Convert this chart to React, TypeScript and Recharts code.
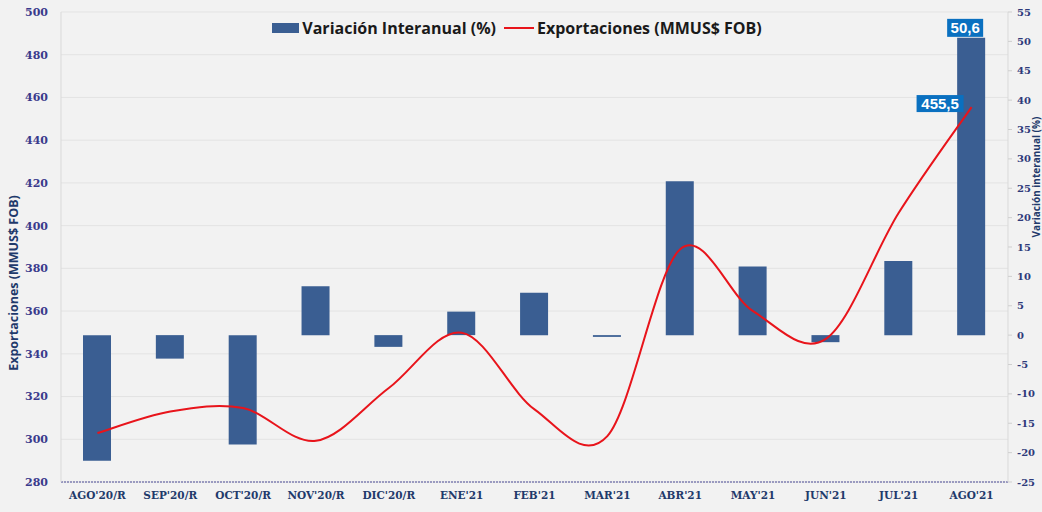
import React from 'react';
import { ComposedChart, Bar, Line, XAxis, YAxis, CartesianGrid, Legend, LabelList } from 'recharts';

const months = [
  "AGO'20/R", "SEP'20/R", "OCT'20/R", "NOV'20/R", "DIC'20/R", "ENE'21",
  "FEB'21", "MAR'21", "ABR'21", "MAY'21", "JUN'21", "JUL'21", "AGO'21",
];
const variacion = [-21.4, -4.0, -18.6, 8.3, -2.0, 4.0, 7.2, -0.3, 26.2, 11.7, -1.2, 12.6, 50.6];
const exportaciones = [302.9, 313.0, 314.6, 299.3, 324.0, 349.9, 314.0, 301.5, 389.0, 360.0, 347.0, 406.0, 455.5];

const leftTicks = [280, 300, 320, 340, 360, 380, 400, 420, 440, 460, 480, 500];
const rightTicks = [-25, -20, -15, -10, -5, 0, 5, 10, 15, 20, 25, 30, 35, 40, 45, 50, 55];

const data = months.map((m, i) => ({ mes: m, variacion: variacion[i], exportaciones: exportaciones[i] }));

const fmt = (v: number) => String(v).replace('.', ',');

// Excel-like smoothed line (Catmull-Rom through the points)
const excelSmooth = (context: any) => {
  let pts: number[][] = [];
  return {
    areaStart() {},
    areaEnd() {},
    lineStart() { pts = []; },
    point(x: number, y: number) { pts.push([+x, +y]); },
    lineEnd() {
      if (!pts.length) return;
      context.moveTo(pts[0][0], pts[0][1]);
      for (let i = 0; i < pts.length - 1; i++) {
        const p0 = pts[i - 1] || pts[i];
        const p1 = pts[i];
        const p2 = pts[i + 1];
        const p3 = pts[i + 2] || p2;
        context.bezierCurveTo(
          p1[0] + (p2[0] - p0[0]) / 6, p1[1] + (p2[1] - p0[1]) / 6,
          p2[0] - (p3[0] - p1[0]) / 6, p2[1] - (p3[1] - p1[1]) / 6,
          p2[0], p2[1],
        );
      }
    },
  };
};

const last = months.length - 1;

const BarTag = (props: any) => {
  const { x, y, width, value, index } = props;
  if (index !== last) return null;
  const cx = x + width / 2 - 6;
  return (
    <g>
      <rect x={cx - 18} y={y - 19} width={36} height={18} fill="#0a70c0" />
      <text x={cx} y={y - 4.5} textAnchor="middle" fill="#fff" fontSize={15} fontWeight={700} fontFamily="Liberation Sans, Arial, sans-serif">{fmt(value)}</text>
    </g>
  );
};

const LineTag = (props: any) => {
  const { x, y, value, index } = props;
  if (index !== last) return null;
  return (
    <g>
      <rect x={x - 55} y={y - 12} width={47} height={17} fill="#0a70c0" />
      <text x={x - 31.5} y={y + 2} textAnchor="middle" fill="#fff" fontSize={15} fontWeight={700} fontFamily="Liberation Sans, Arial, sans-serif">{fmt(value)}</text>
    </g>
  );
};

const LegendBox = ({ payload }: any) => {
  const items = [...(payload || [])].sort((a: any, b: any) => (a.type === 'line' ? 1 : 0) - (b.type === 'line' ? 1 : 0));
  return (
    <div style={{ display: 'flex', justifyContent: 'center', alignItems: 'center', fontFamily: 'Open Sans, sans-serif', fontWeight: 700, fontSize: 16, color: '#1a1a1a', whiteSpace: 'nowrap' }}>
      {items.map((p: any) => (
        <div key={p.value} style={{ display: 'flex', alignItems: 'center', marginRight: 8 }}>
          {p.type === 'line'
            ? <div style={{ width: 30, height: 2, background: p.color, marginRight: 3 }} />
            : <div style={{ width: 27, height: 10, background: p.color, marginRight: 3 }} />}
          <span>{p.value}</span>
        </div>
      ))}
    </div>
  );
};

const tickFont = { fontFamily: 'DejaVu Serif, serif', fontWeight: 700 };

export default function App() {
  return (
    <div style={{ position: 'absolute', left: 0, top: 0, width: 1042, height: 512, background: '#f2f2f2' }}>
      <ComposedChart width={1042} height={512} data={data} margin={{ top: 12, right: 0, bottom: 0, left: 0 }}>
        <CartesianGrid yAxisId="left" vertical={false} stroke="#e3e3e3" />
        <XAxis
          dataKey="mes"
          interval={0}
          height={30}
          tickLine={false}
          tickMargin={4}
          axisLine={{ stroke: '#4a4a96', strokeDasharray: '2 1' }}
          tick={{ ...tickFont, fontSize: 10.5, fill: '#1f3a6b' }}
        />
        <YAxis
          yAxisId="left"
          width={61}
          domain={[280, 500]}
          ticks={leftTicks}
          interval={0}
          tickLine={false}
          tickSize={6}
          tickMargin={7}
          axisLine={{ stroke: '#d9d9d9' }}
          tick={{ ...tickFont, fontSize: 11, fill: '#3a3a8c' }}
          label={{
            content: () => (
              <text x={18} y={283} transform="rotate(-90 18 283)" textAnchor="middle" fill="#1f3a6b" fontSize={12.5} fontWeight={700} fontFamily="Open Sans, sans-serif">
                Exportaciones (MMUS$ FOB)
              </text>
            ),
          }}
        />
        <YAxis
          yAxisId="right"
          orientation="right"
          width={34}
          domain={[-25, 55]}
          ticks={rightTicks}
          interval={0}
          tickSize={4}
          tickMargin={5}
          tickLine={{ stroke: '#cfcfcf' }}
          axisLine={{ stroke: '#d9d9d9' }}
          tick={{ ...tickFont, fontSize: 10, fill: '#2e3a7a' }}
          label={{
            content: () => (
              <text x={1039.5} y={177} transform="rotate(-90 1039.5 177)" textAnchor="middle" fill="#1f3a6b" fontSize={10} fontWeight={700} fontFamily="Open Sans, sans-serif">
                Variación interanual (%)
              </text>
            ),
          }}
        />
        <Legend
          verticalAlign="middle"
          align="center"
          layout="horizontal"
          wrapperStyle={{ top: 17, left: 0, width: 1042 }}
          content={<LegendBox />}
        />
        <Bar yAxisId="right" dataKey="variacion" name="Variación Interanual (%)" fill="#3a5e92" barSize={28} isAnimationActive={false}>
          <LabelList dataKey="variacion" content={<BarTag />} />
        </Bar>
        <Line
          yAxisId="left"
          dataKey="exportaciones"
          name="Exportaciones (MMUS$ FOB)"
          type={excelSmooth as any}
          stroke="#e8141b"
          strokeWidth={2}
          dot={false}
          activeDot={false}
          isAnimationActive={false}
        >
          <LabelList dataKey="exportaciones" content={<LineTag />} />
        </Line>
      </ComposedChart>
    </div>
  );
}
